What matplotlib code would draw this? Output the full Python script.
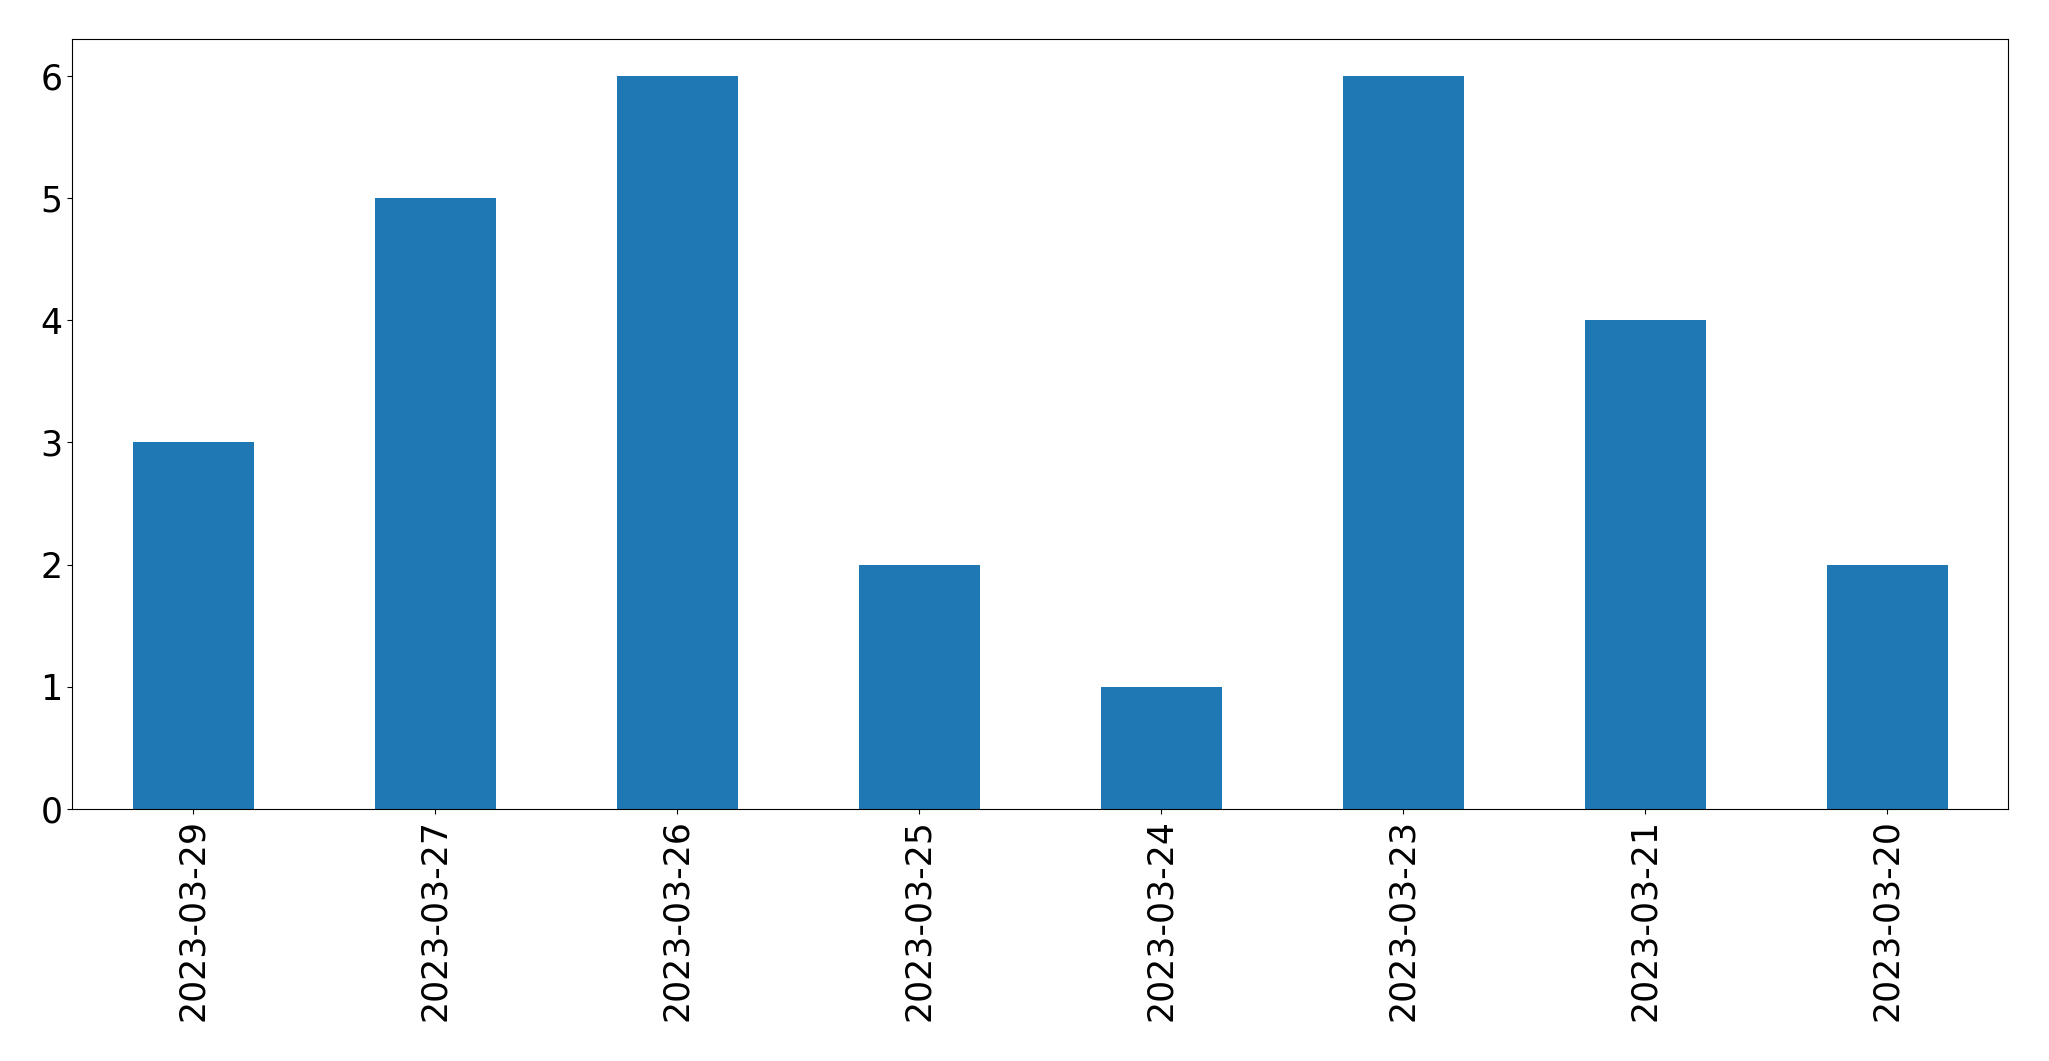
import matplotlib
matplotlib.use("Agg")
import matplotlib.pyplot as plt

dates = ["2023-03-29", "2023-03-27", "2023-03-26", "2023-03-25",
         "2023-03-24", "2023-03-23", "2023-03-21", "2023-03-20"]
counts = [3, 5, 6, 2, 1, 6, 4, 2]

fig = plt.figure(figsize=(20.49, 10.61), dpi=100)
ax = fig.add_axes([72/2049, 1 - 809/1061, (2008-72)/2049, (809-39)/1061])
x = list(range(len(dates)))
ax.bar(x, counts, width=0.5, color="#1f77b4")
ax.set_xlim(-0.5, len(dates) - 0.5)
ax.set_ylim(0, 6.3)
ax.set_xticks(x)
ax.set_xticklabels(dates, rotation=90)
ax.tick_params(labelsize=25)
fig.savefig("out.png", dpi=100)
